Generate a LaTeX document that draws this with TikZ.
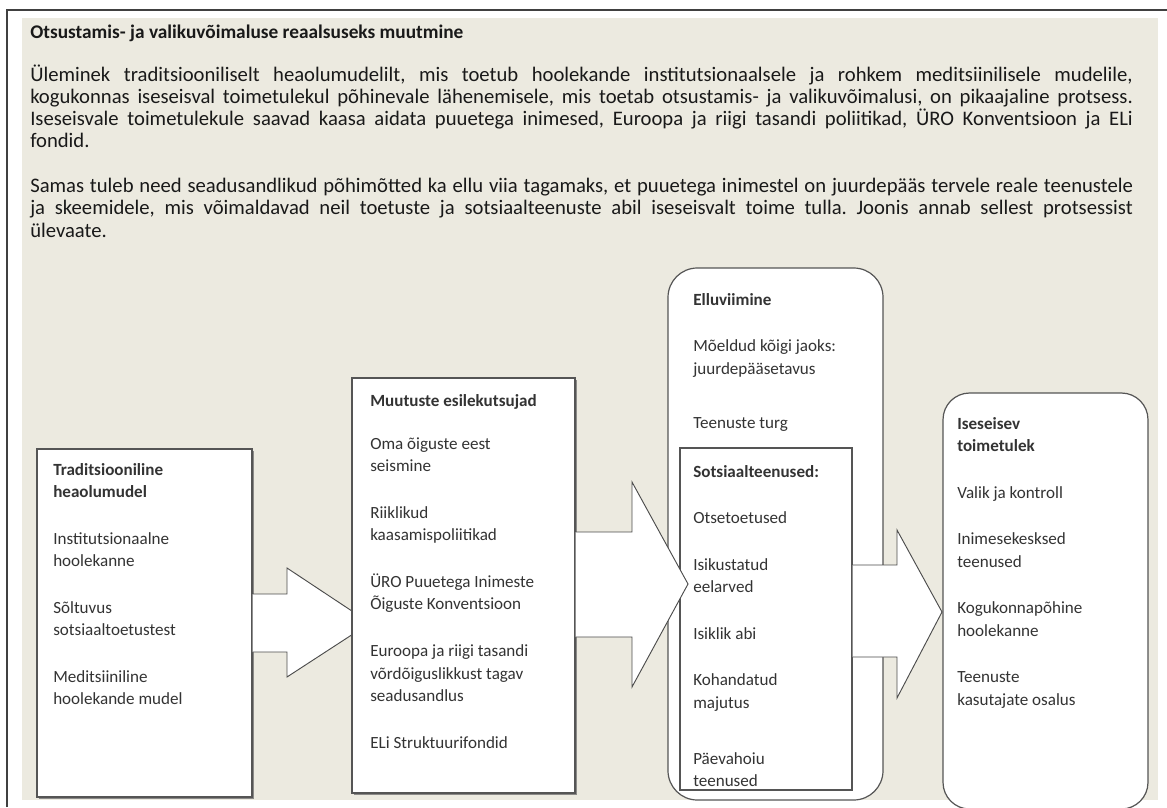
\documentclass[tikz,border=0pt]{standalone}
\usepackage{fontspec}
\setmainfont{Carlito}
\usetikzlibrary{fit,shadows}

\definecolor{pagebeige}{RGB}{236,234,224}
\definecolor{framegray}{RGB}{85,85,85}
\newcommand{\jline}[1]{\makebox[827pt][s]{#1}}
\frenchspacing

\begin{document}
\begin{tikzpicture}[x=0.75pt,y=-0.75pt,
    boxframe/.style={draw=framegray,line width=0.9pt,fill=white,inner sep=0pt},
    boxshade/.style={drop shadow={shadow xshift=1.3pt,shadow yshift=-1.3pt,fill=black!55,opacity=.8}},
    bigarrow/.style={draw=black!70,line width=0.7pt,fill=white,line join=miter},
    boxtext/.style={anchor=north west,inner sep=0pt,align=left,text=black!80,
        font=\fontsize{12.8}{16.9}\selectfont}]
    \useasboundingbox (0,0) rectangle (1167,807);
    % page
    \fill[white] (0,0) rectangle (1167,807);
    \fill[pagebeige] (22,18) rectangle (1158,800);
    \draw[black!75,line width=1.4pt] (7,807) -- (7,10) -- (1167,10);

    % heading and text
    \begin{scope}[every node/.style={anchor=base west,inner sep=0pt,text=black!90,
        font=\fontsize{15.5}{16.5}\selectfont}]
        \node[font=\fontsize{14.5}{16.5}\selectfont\bfseries] (title) at (30,38) {Otsustamis- ja valikuvõimaluse reaalsuseks muutmine};
        \node (intro1) at (30,81) {\jline{Üleminek traditsiooniliselt heaolumudelilt, mis toetub hoolekande institutsionaalsele ja rohkem meditsiinilisele mudelile,}};
        \node (intro2) at (30,103) {\jline{kogukonnas iseseisval toimetulekul põhinevale lähenemisele, mis toetab otsustamis- ja valikuvõimalusi, on pikaajaline protsess.}};
        \node (intro3) at (30,125) {\jline{Iseseisvale toimetulekule saavad kaasa aidata puuetega inimesed, Euroopa ja riigi tasandi poliitikad, ÜRO Konventsioon ja ELi}};
        \node (intro4) at (30,147) {fondid.};
        \node (practice1) at (30,192) {\jline{Samas tuleb need seadusandlikud põhimõtted ka ellu viia tagamaks, et puuetega inimestel on juurdepääs tervele reale teenustele}};
        \node (practice2) at (30,214) {\jline{ja skeemidele, mis võimaldavad neil toetuste ja sotsiaalteenuste abil iseseisvalt toime tulla. Joonis annab sellest protsessist}};
        \node (practice3) at (30,237) {ülevaate.};
    \end{scope}

    % boxes and block arrows
    \node[boxframe,boxshade,fit={(37,449) (252,797)}] (trad) {};
    \draw[bigarrow] (trad.east |- 0,594) -- (287,594) -- (287,568) -- (370,623)
        -- (287,677) -- (287,652) -- (trad.east |- 0,652);
    \node[boxframe,boxshade,fit={(352,378) (575,793)}] (drivers) {};
    \node[boxframe,rounded corners=22pt,fit={(668,268) (883,800)}] (impl) {};
    \node[boxframe,fit={(680,448) (852,790)}] (social) {};
    \draw[bigarrow] (drivers.east |- 0,532) -- (632,532) -- (632,482) -- (688,584)
        -- (632,687) -- (632,637) -- (drivers.east |- 0,637);
    \node[boxframe,rounded corners=20pt,fit={(943,393) (1148,809)}] (indep) {};
    \draw[bigarrow] (social.east |- 0,565) -- (897,565) -- (897,530) -- (942,612)
        -- (897,698) -- (897,657) -- (social.east |- 0,657);

    % box texts
    \node[boxtext] (tradtext) at (53,463) {\textbf{Traditsiooniline}\\ \textbf{heaolumudel}\\[18pt]
        Institutsionaalne\\ hoolekanne\\[18pt]
        Sõltuvus\\ sotsiaaltoetustest\\[18pt]
        Meditsiiniline\\ hoolekande mudel};
    \node[boxtext] (driverstext) at (370,394) {\textbf{Muutuste esilekutsujad}\\[15.4pt]
        Oma õiguste eest\\ seismine\\[18pt]
        Riiklikud\\ kaasamispoliitikad\\[18pt]
        ÜRO Puuetega Inimeste\\ Õiguste Konventsioon\\[18pt]
        Euroopa ja riigi tasandi\\ võrdõiguslikkust tagav\\ seadusandlus\\[18pt]
        ELi Struktuurifondid};
    \node[boxtext] (impltext) at (693,293) {\textbf{Elluviimine}\\[18pt]
        Mõeldud kõigi jaoks:\\ juurdepääsetavus\\[23.5pt]
        Teenuste turg};
    \node[boxtext] (socialtext) at (693,465) {\textbf{Sotsiaalteenused:}\\[18pt]
        Otsetoetused\\[18pt]
        Isikustatud\\ eelarved\\[18pt]
        Isiklik abi\\[18pt]
        Kohandatud\\ majutus\\[25pt]
        Päevahoiu\\ teenused};
    \node[boxtext] (indeptext) at (957,417) {\textbf{Iseseisev}\\ \textbf{toimetulek}\\[18pt]
        Valik ja kontroll\\[18pt]
        Inimesekesksed\\ teenused\\[18pt]
        Kogukonnapõhine\\ hoolekanne\\[18pt]
        Teenuste\\ kasutajate osalus};
\end{tikzpicture}
\end{document}
